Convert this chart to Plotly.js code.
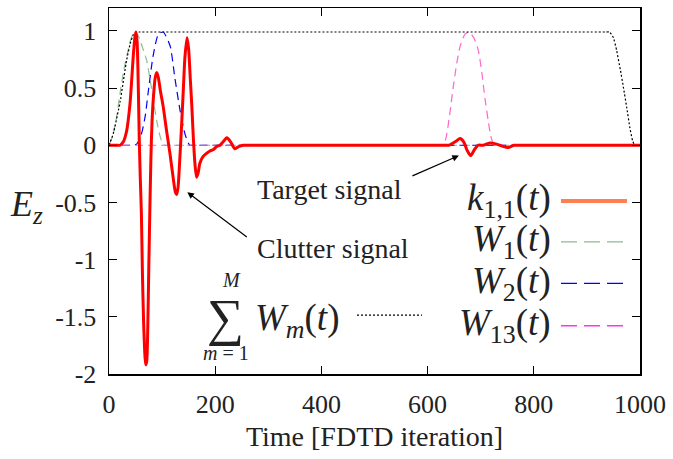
<!DOCTYPE html>
<html><head><meta charset="utf-8">
<script src="https://cdn.plot.ly/plotly-3.0.1.min.js"></script>
<style>html,body{margin:0;padding:0;background:#fff}</style>
</head><body><div id="plot" style="width:673px;height:459px"></div>
<script>
// ---- data ----
const redX = [0,15,21,27,33,39.5,43,46,49,51,53,55,57,59,61,63,65,67,69,71,73,75,77,79,81,84,87,90,93,97,102,108,115,121,125,127.5,130,133,137,140,143,147,150,153,156,159,162,165,168,171,177,184,190,196,203,209,215,222,229,237,245,253,262,620,630,640,648,655,661,668,674,681,688,695,705,717,730,742,751,763,772,1000];
const redY = [0,0,0,0.03,0.12,0.36,0.59,0.8,0.95,0.99,0.9,0.55,0.05,-0.3,-0.6,-1.13,-1.52,-1.78,-1.92,-1.89,-1.6,-1.05,-0.55,-0.1,0.2,0.44,0.59,0.635,0.59,0.47,0.34,0.14,-0.08,-0.29,-0.41,-0.43,-0.37,-0.15,0.2,0.49,0.77,0.94,0.84,0.59,0.34,0.05,-0.17,-0.28,-0.24,-0.16,-0.1,-0.07,-0.05,-0.04,-0.01,0,0.03,0.065,0.03,-0.03,-0.01,0,0,0,0,0,0.02,0.04,0.06,0.03,-0.04,-0.09,-0.04,0,0,0.02,0.01,-0.01,-0.02,0,0,0];

const w1X = [0,6,13,22,28,34.5,40,45,49,55,62,71,76,80,85,90,95,99,105,115,1000];
const w1Y = [0,0.07,0.21,0.49,0.66,0.8,0.91,0.97,0.99,0.96,0.87,0.74,0.61,0.5,0.35,0.21,0.1,0.04,0,0,0];

const w2X = [0,38,45,52,60,68,74,83,93,102,115,124,134,143,152,160,1000];
const w2Y = [0,0,0,0.01,0.08,0.25,0.47,0.78,0.97,0.99,0.87,0.59,0.3,0.1,0,0,0];

const w13X = [0,615,623,633,641,648,655,661,670,678,687,695.5,702,708,714,719,725,733,1000];
const w13Y = [0,0,0,0.04,0.25,0.5,0.72,0.86,0.97,0.99,0.94,0.83,0.64,0.41,0.22,0.08,0,0,0];

const sumX = [0,8,21,33,40,46,50,56,935,943,950,956,963,969,975,981,986,990,1000];
const sumY = [0,0.1,0.38,0.74,0.89,0.97,0.99,0.99,0.99,0.99,0.94,0.83,0.66,0.5,0.33,0.15,0.04,0,0];

const xTicks = [0,200,400,600,800,1000];
const yTicks = [-2,-1.5,-1,-0.5,0,0.5,1];
const yTickText = ['-2','-1.5','-1','-0.5','0','0.5','1'];

const legendLabels = ['<i>k</i><sub>1,1</sub>(<i>t</i>)','<i>W</i><sub>1</sub>(<i>t</i>)','<i>W</i><sub>2</sub>(<i>t</i>)','<i>W</i><sub>13</sub>(<i>t</i>)'];

// ---- layout helpers (pixel -> paper) ----
const L=109, R=640, T=7.5, B=374;
const px = v => (v-L)/(R-L);
const py = v => (B-v)/(B-T);
const FONT = 'Liberation Serif, DejaVu Serif, serif';
const TXT = '#222';

const traces = [
  {x:w1X, y:w1Y, mode:'lines', line:{color:'#8fbc8f', width:1.2, dash:'8px,5px', shape:'spline', smoothing:0.6}},
  {x:w2X, y:w2Y, mode:'lines', line:{color:'#0000ff', width:1.2, dash:'8px,5px', shape:'spline', smoothing:0.6}},
  {x:w13X, y:w13Y, mode:'lines', line:{color:'#ff66cc', width:1.2, dash:'8px,5px', shape:'spline', smoothing:0.6}},
  {x:sumX, y:sumY, mode:'lines', line:{color:'#000', width:1.2, dash:'2px,2px', shape:'spline', smoothing:0.3}},
  {x:redX, y:redY, mode:'lines', line:{color:'#ff0000', width:3, shape:'spline', smoothing:0.7}}
];

const legendColors = ['#ff7f50','#8fbc8f','#0000ff','#ff33ee'];
const legendWidths = [4,1.3,1.3,1.5];
const legendDash = ['solid','16px,7px','16px,7px','16px,7px'];
const legendYpx = [200.7,241.7,283.3,325.7];

const shapes = [];
const annotations = [];
legendLabels.forEach((lab,i)=>{
  annotations.push({xref:'paper', yref:'paper', x:px(553), y:py(legendYpx[i]), xanchor:'right', yanchor:'middle',
    text:lab, showarrow:false, font:{family:FONT, size:37, color:TXT}});
  shapes.push({type:'line', xref:'paper', yref:'paper', x0:px(561), x1:px(627), y0:py(legendYpx[i]), y1:py(legendYpx[i]),
    line:{color:legendColors[i], width:legendWidths[i], dash:legendDash[i]}});
});

// sum formula
annotations.push({xref:'paper', yref:'paper', x:px(225), y:py(318), text:'\u2211', showarrow:false, xanchor:'center', yanchor:'middle', font:{family:FONT, size:52, color:TXT}});
annotations.push({xref:'paper', yref:'paper', x:px(231), y:py(280), text:'<i>M</i>', showarrow:false, xanchor:'center', yanchor:'middle', font:{family:FONT, size:20, color:TXT}});
annotations.push({xref:'paper', yref:'paper', x:px(226), y:py(353), text:'<i>m</i> = 1', showarrow:false, xanchor:'center', yanchor:'middle', font:{family:FONT, size:20, color:TXT}});
annotations.push({xref:'paper', yref:'paper', x:px(253), y:py(320), text:'<i>W</i><sub><i>m</i></sub>(<i>t</i>)', showarrow:false, xanchor:'left', yanchor:'middle', font:{family:FONT, size:37, color:TXT}});
shapes.push({type:'line', xref:'paper', yref:'paper', x0:px(357), x1:px(422), y0:py(315), y1:py(315), line:{color:'#000', width:1.2, dash:'2px,2px'}});

// E_z label
annotations.push({xref:'paper', yref:'paper', x:px(26), y:py(206), text:'<i>E</i><sub><i>z</i></sub>', showarrow:false, xanchor:'center', yanchor:'middle', font:{family:FONT, size:36, color:TXT}});

// signal annotations
annotations.push({xref:'paper', yref:'paper', x:px(329), y:py(189), text:'Target signal', showarrow:false, xanchor:'center', yanchor:'middle', font:{family:FONT, size:28, color:TXT}});
annotations.push({xref:'paper', yref:'paper', x:px(333), y:py(248), text:'Clutter signal', showarrow:false, xanchor:'center', yanchor:'middle', font:{family:FONT, size:28, color:TXT}});
annotations.push({xref:'x', yref:'y', x:659, y:-0.09, text:'', showarrow:true, axref:'pixel', ayref:'pixel', ax:-48, ay:21, arrowhead:2, arrowsize:1.1, arrowwidth:1.2, arrowcolor:'#000', standoff:0});
annotations.push({xref:'x', yref:'y', x:147.5, y:-0.41, text:'', showarrow:true, axref:'pixel', ayref:'pixel', ax:61, ay:46, arrowhead:2, arrowsize:1.1, arrowwidth:1.2, arrowcolor:'#000', standoff:0});

const layout = {
  width:673, height:459,
  margin:{l:L, r:673-R, t:T, b:459-B},
  paper_bgcolor:'#fff', plot_bgcolor:'#fff',
  showlegend:false,
  font:{family:FONT, size:26, color:TXT},
  xaxis:{range:[0,1000], tickvals:xTicks, ticktext:xTicks.map(String), ticks:'inside', ticklen:8, tickwidth:1, tickcolor:'#000',
    mirror:'allticks', showline:true, linecolor:'#000', linewidth:1.5, showgrid:false, zeroline:false,
    tickfont:{family:FONT, size:26, color:TXT}, ticklabelstandoff:6,
    title:{text:'Time [FDTD iteration]', font:{family:FONT, size:28, color:TXT}, standoff:8}},
  yaxis:{range:[-2,1.2], tickvals:yTicks, ticktext:yTickText, ticks:'inside', ticklen:8, tickwidth:1, tickcolor:'#000',
    mirror:'allticks', showline:true, linecolor:'#000', linewidth:1.5, showgrid:false, zeroline:false,
    tickfont:{family:FONT, size:26, color:TXT}, ticklabelstandoff:6},
  shapes:shapes, annotations:annotations
};
Plotly.newPlot('plot', traces, layout, {staticPlot:true, displayModeBar:false});
</script></body></html>
